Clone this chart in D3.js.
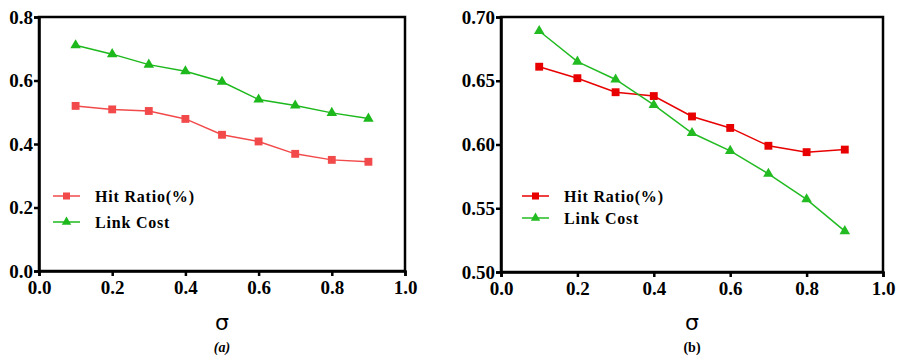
<!DOCTYPE html>
<html>
<head>
<meta charset="utf-8">
<script src="https://cdn.jsdelivr.net/npm/d3@7"></script>
<style>
  body { margin: 0; background: #fff; }
</style>
</head>
<body>
<div id="chart"></div>
<script>
const serif = '"Liberation Serif", "Times New Roman", serif';
const sigma = [0.1, 0.2, 0.3, 0.4, 0.5, 0.6, 0.7, 0.8, 0.9];
const hitRatioA = [0.52, 0.509, 0.504, 0.479, 0.429, 0.408, 0.369, 0.350, 0.344];
const linkCostA = [0.711, 0.683, 0.650, 0.629, 0.596, 0.540, 0.521, 0.498, 0.480];
const hitRatioB = [0.661, 0.652, 0.641, 0.638, 0.622, 0.613, 0.599, 0.594, 0.596];
const linkCostB = [0.689, 0.665, 0.651, 0.631, 0.609, 0.595, 0.577, 0.557, 0.532];
const xTicks = [0, 0.2, 0.4, 0.6, 0.8, 1.0];
const yTicksA = [0, 0.2, 0.4, 0.6, 0.8];
const yTicksB = [0.50, 0.55, 0.60, 0.65, 0.70];

const svg = d3.select('#chart').append('svg').attr('width', 899).attr('height', 360);

function drawPanel(p) {
  const x = d3.scaleLinear().domain([0, 1]).range([p.left, p.right]);
  const y = d3.scaleLinear().domain(p.yDomain).range([p.bottom, p.top]);
  const g = svg.append('g');

  // frame
  g.append('rect')
    .attr('x', p.left).attr('y', p.top)
    .attr('width', p.right - p.left).attr('height', p.bottom - p.top)
    .attr('fill', 'none').attr('stroke', '#000').attr('stroke-width', 2.5);

  const xAxis = g.append('g')
    .attr('transform', `translate(0,${p.bottom})`)
    .call(d3.axisBottom(x).tickValues(xTicks).tickFormat(d3.format('.1f')).tickSizeOuter(0).tickSize(5).tickPadding(5));
  const yAxis = g.append('g')
    .attr('transform', `translate(${p.left},0)`)
    .call(d3.axisLeft(y).tickValues(p.yTicks).tickFormat(d3.format(p.yFmt)).tickSizeOuter(0).tickSize(5).tickPadding(1));
  [xAxis, yAxis].forEach(a => {
    a.attr('font-family', null).attr('font-size', null);
    a.select('.domain').attr('stroke-width', 2.5);
    a.selectAll('.tick line').attr('stroke-width', 2.5);
    a.selectAll('text')
      .style('font-family', serif)
      .style('font-weight', 'bold')
      .style('font-size', '19px')
      .attr('fill', '#000');
  });

  const line = d3.line().x((d, i) => x(sigma[i])).y(d => y(d));
  const series = [
    { vals: p.hit, color: p.red, sym: d3.symbolSquare, size: 62, label: 'Hit Ratio(%)' },
    { vals: p.link, color: p.green, sym: d3.symbolTriangle, size: 48, label: 'Link Cost' }
  ];
  series.forEach(s => {
    g.append('path').datum(s.vals)
      .attr('d', line).attr('fill', 'none')
      .attr('stroke', s.color).attr('stroke-width', 1.5);
    g.selectAll(null).data(s.vals).enter().append('path')
      .attr('d', d3.symbol().type(s.sym).size(s.size))
      .attr('transform', (d, i) => `translate(${x(sigma[i])},${y(d)})`)
      .attr('fill', s.color);
  });

  // legend
  series.forEach((s, i) => {
    const ly = p.legY + i * p.legGap;
    g.append('line')
      .attr('x1', p.legX).attr('x2', p.legX + 27)
      .attr('y1', ly).attr('y2', ly)
      .attr('stroke', s.color).attr('stroke-width', 1.5);
    g.append('path')
      .attr('d', d3.symbol().type(s.sym).size(s.size * 0.8))
      .attr('transform', `translate(${p.legX + 13.5},${ly})`)
      .attr('fill', s.color);
    g.append('text')
      .attr('x', p.legTextX).attr('y', ly + 5.5)
      .style('font-family', serif)
      .style('font-weight', 'bold').style('font-size', '16px')
      .style('letter-spacing', '0.8px')
      .text(s.label);
  });

  // axis title and caption
  g.append('text')
    .attr('x', (p.left + p.right) / 2).attr('y', 330)
    .attr('text-anchor', 'middle')
    .style('font-family', '"DejaVu Sans", sans-serif')
    .style('font-size', '22px')
    .text('σ');
  g.append('text')
    .attr('x', (p.left + p.right) / 2).attr('y', 352)
    .attr('text-anchor', 'middle')
    .style('font-family', serif)
    .style('font-size', '14px')
    .style('font-weight', 'bold')
    .style('font-style', p.capItalic ? 'italic' : 'normal')
    .text(p.caption);
}

drawPanel({
  left: 39, right: 405, top: 17, bottom: 271,
  yDomain: [0, 0.8], yTicks: yTicksA, yFmt: '.1f',
  hit: hitRatioA, link: linkCostA,
  red: '#f24a4a', green: '#1cb81c',
  legX: 53, legTextX: 95, legY: 196, legGap: 26,
  caption: '(a)', capItalic: true
});

drawPanel({
  left: 501, right: 883, top: 17, bottom: 272,
  yDomain: [0.5, 0.7], yTicks: yTicksB, yFmt: '.2f',
  hit: hitRatioB, link: linkCostB,
  red: '#e80000', green: '#22bb22',
  legX: 522, legTextX: 564, legY: 196, legGap: 22,
  caption: '(b)', capItalic: false
});
</script>
</body>
</html>
